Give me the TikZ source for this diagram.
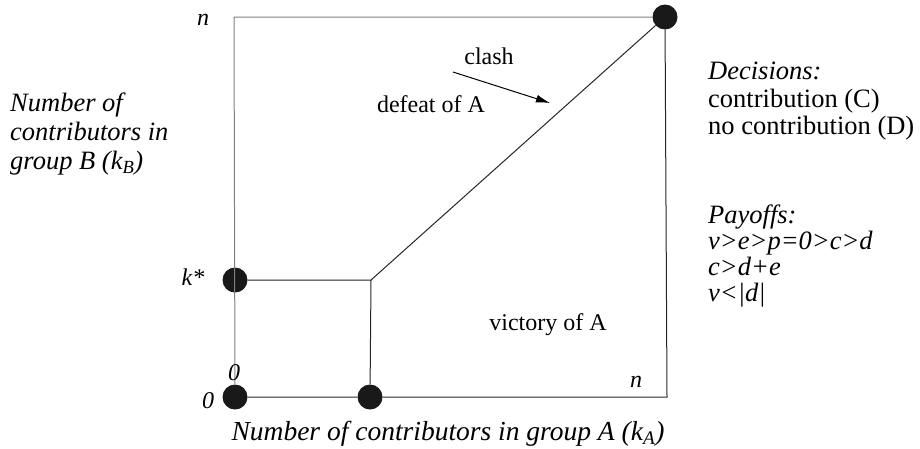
\documentclass[tikz,border=0pt]{standalone}
\usepackage{fontspec}
\setmainfont{Liberation Serif}
\usetikzlibrary{arrows.meta,positioning}

\begin{document}
\begin{tikzpicture}[x=1pt, y=-1pt,
    dot/.style={circle, fill=black!90, inner sep=0pt, minimum size=25pt},
    edge/.style={line width=1pt, black!85},
    frame/.style={line width=1pt, black!50},
    txt/.style={font=\fontsize{24}{27}\selectfont, inner sep=0pt, align=left},
    itxt/.style={txt, font=\fontsize{24}{27}\selectfont\itshape},
    bigtxt/.style={txt, font=\fontsize{26.5}{27.5}\selectfont},
    arrow/.style={-{Latex[length=14pt, width=8pt]}, line width=1pt}
]
    \useasboundingbox (0,0) rectangle (920,448);

    % outcome points and corners of the square
    \coordinate (tl) at (234,17);
    \coordinate (br) at (667,397);
    \coordinate (kink) at (371,280);
    \node[dot] (nn)     at (665,17)  {};
    \node[dot] (kstar)  at (235,280) {};
    \node[dot] (origin) at (235,397) {};
    \node[dot] (kA)     at (370,397) {};

    \draw[frame] (origin) -- (tl) -- (nn);
    \draw[edge] (nn) -- (br) -- (kA) -- (origin);
    \draw[edge] (kstar) -- (kink) -- (kA);
    \draw[edge] (kink) -- (nn);

    % axis ticks
    \node[itxt, anchor=base] (ntop)   at (203,25)  {n};
    \node[itxt, anchor=base] (kslab)  at (193,285) {k*};
    \node[itxt, anchor=base] (zeroB)  at (208,408) {0};
    \node[itxt, anchor=base] (zeroA)  at (234,380) {0};
    \node[itxt, anchor=base] (nright) at (636,387) {n};

    % regions
    \node[txt, anchor=base] (clash)   at (489,64)  {clash};
    \coordinate (clashtip) at (550,103);
    \draw[arrow] (453,72) -- (clashtip);
    \node[txt, anchor=base] (defeat)  at (431,112) {defeat of A};
    \node[txt, anchor=base] (victory) at (548,330) {victory of A};

    % axis titles
    \node[bigtxt, font=\fontsize{26.5}{29}\selectfont\itshape, anchor=north west] (ylab) at (10,93)
        {Number of\\contributors in\\group B (k\textsubscript{B})};
    \node[bigtxt, font=\fontsize{27.5}{29}\selectfont\itshape, anchor=base] (xlab) at (448,440)
        {Number of contributors in group A (k\textsubscript{A})};

    % legend
    \node[bigtxt, anchor=north west] (decisions) at (708,62)
        {\textit{Decisions:}\\contribution (C)\\no contribution (D)};
    \node[bigtxt, font=\fontsize{26.5}{26}\selectfont\itshape, anchor=north west] (payoffs) at (708,205)
        {Payoffs:\\v>e>p=0>c>d\\c>d+e\\v<|d|};
\end{tikzpicture}
\end{document}
